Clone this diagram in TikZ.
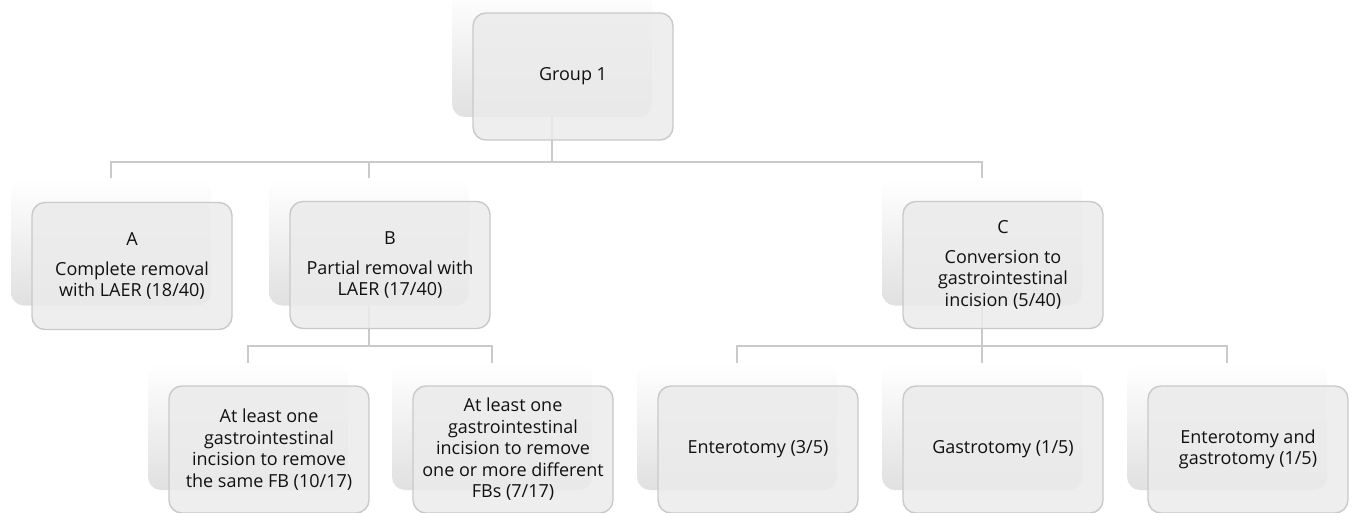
\documentclass[tikz,border=0pt]{standalone}
\usepackage{fontspec}
\setmainfont{Open Sans}
\definecolor{boxfill}{HTML}{EBEBEB}
\definecolor{boxline}{HTML}{C9C9C9}
\definecolor{conn}{HTML}{CACACA}
\definecolor{txt}{HTML}{111111}
\tikzset{
  card/.style={rounded corners=13pt, minimum width=200pt, minimum height=127pt,
    fill=boxfill, fill opacity=0.85, text opacity=1, draw=boxline, line width=1.4pt,
    align=center, text=txt, font=\fontsize{18}{21.5}\selectfont, inner sep=0pt},
  backcard/.style={rounded corners=13pt, minimum width=200pt, minimum height=127pt,
    top color=white, middle color=white, bottom color=black!12, draw=none, inner sep=0pt},
  link/.style={draw=conn, line width=2pt},
}
\begin{document}
\begin{tikzpicture}[x=1pt,y=-1pt]
\useasboundingbox (0,0) rectangle (1354,513);
% back panels
\foreach \n/\x/\y in {g1/573/76.5, a/132/265, b/390/265, c/1003/265,
  b1/269/449.5, b2/513/449.5, c1/758/449.5, c2/1003/449.5, c3/1248/449.5}
  \node[backcard] (\n-s) at (\x-21,\y-23) {};
% connectors
\draw[link] (g1-s.south) -- ++(0,45) coordinate (j1);
\draw[link] (a-s.north) |- (c-s.north |- j1) -- (c-s.north);
\draw[link] (b-s.north) -- (b-s.north |- j1);
\draw[link] (b-s.south) -- ++(0,40) coordinate (j2);
\draw[link] (b1-s.north) |- (b2-s.north |- j2) -- (b2-s.north);
\draw[link] (c-s.south) -- ++(0,40) coordinate (j3) -- (c2-s.north);
\draw[link] (c1-s.north) |- (c3-s.north |- j3) -- (c3-s.north);
% cards
\node[card] (g1) at (573,76.5) {Group 1};
\node[card] (a) at (132,266) {A\\[8pt]Complete removal\\with LAER (18/40)};
\node[card] (b) at (390,265) {B\\[8pt]Partial removal with\\LAER (17/40)};
\node[card] (c) at (1003,265) {C\\[8pt]Conversion to\\gastrointestinal\\incision (5/40)};
\node[card] (b1) at (269,449.5) {At least one\\gastrointestinal\\incision to remove\\the same FB (10/17)};
\node[card] (b2) at (513,449.5) {At least one\\gastrointestinal\\incision to remove\\one or more different\\FBs (7/17)};
\node[card] (c1) at (758,449.5) {Enterotomy (3/5)};
\node[card] (c2) at (1003,449.5) {Gastrotomy (1/5)};
\node[card] (c3) at (1248,449.5) {Enterotomy and\\gastrotomy (1/5)};
\end{tikzpicture}
\end{document}
